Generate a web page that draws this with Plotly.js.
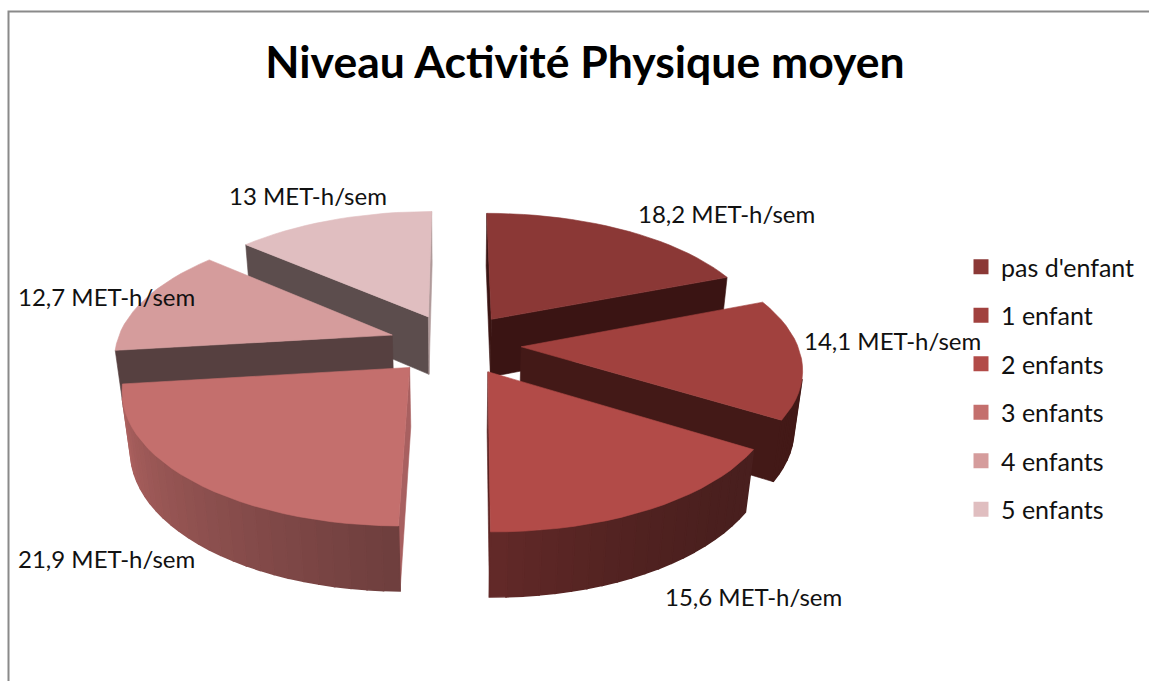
<!DOCTYPE html>
<html>
<head>
<meta charset="utf-8">
<script src="https://cdn.plot.ly/plotly-3.0.1.min.js"></script>
<style>html,body{margin:0;padding:0;background:#fff;overflow:hidden}</style>
</head>
<body>
<div id="chart" style="width:1149px;height:681px"></div>
<script>
// Chart data
const categories = ["pas d'enfant", '1 enfant', '2 enfants', '3 enfants', '4 enfants', '5 enfants'];
const valueLabels = ['18,2', '14,1', '15,6', '21,9', '12,7', '13'];
const values = [18.2, 14.1, 15.6, 21.9, 12.7, 13];
const unit = 'MET-h/sem';

// Slice styles
const topColors = ['#8B3836', '#A1413E', '#B24B48', '#C46F6D', '#D59C9C', '#E0BEC0'];
const startFaceColors = ['#3A1413', '#431917', '#431917', '#A86060', '#564040', '#5C4D4D'];
const endFaceColors = ['#3A1413', '#431917', '#5A2220', '#A86060', '#564040', '#B09A9A'];
const baseRgb = [[139, 56, 54], [160, 65, 62], [178, 75, 72], [196, 111, 109], [213, 156, 156], [224, 190, 192]];

// Label placement (left edge, middle), in page pixels
const labelX = [636, 802, 663, 16, 16, 227];
const labelY = [213, 340, 596, 558, 296, 195];

// Pie camera
const cx = 455, cy = 344, A = 276, B = 128, H = 60;
const persp = 0.145, lean = 0.025, explode = 0.24;
const drawOrder = [5, 0, 4, 1, 3, 2];
const FONT = 'Lato, sans-serif';

const rad = d => d * Math.PI / 180;
const total = values.reduce((a, b) => a + b, 0);

function project(u, v, z) {
  const w = 1 + persp * v + lean * z;
  return [cx + A * u / w, cy + (-B * v + H * z) / w];
}

function area(pts) {
  let s = 0;
  pts.forEach((p, i) => {
    const q = pts[(i + 1) % pts.length];
    s += p[0] * q[1] - q[0] * p[1];
  });
  return s / 2;
}

function face(pts, color, width = 0.6) {
  return {
    x: pts.map(p => p[0]).concat(pts[0][0]),
    y: pts.map(p => p[1]).concat(pts[0][1]),
    type: 'scatter',
    mode: 'lines',
    fill: 'toself',
    fillcolor: color,
    line: { color: color, width: width },
    hoverinfo: 'skip',
    showlegend: false,
  };
}

// Outer wall gets darker going from the left side round to the right
function wallColor(i, deg) {
  if (i !== 2 && i !== 3) return startFaceColors[i];
  const t = Math.max(deg - 122, 0) / 59;
  const f = deg >= 181 ? 0.56 + (deg - 181) / 82 * 0.34 : 0.41 + t * t * 0.15;
  return `rgb(${baseRgb[i].map(c => Math.round(c * f)).join(',')})`;
}

function sliceTraces(i, from, to) {
  const mid = rad((from + to) / 2);
  const ex = explode * Math.sin(mid), ey = explode * Math.cos(mid);
  const rim = (deg, z) => project(ex + Math.sin(rad(deg)), ey + Math.cos(rad(deg)), z);
  const apex = z => project(ex, ey, z);
  const out = [];

  const startFace = [apex(0), rim(from, 0), rim(from, 1), apex(1)];
  const endFace = [rim(to, 0), apex(0), apex(1), rim(to, 1)];
  if (area(startFace) < 0) out.push(face(startFace, startFaceColors[i]));
  if (area(endFace) < 0) out.push(face(endFace, endFaceColors[i]));

  const steps = Math.ceil((to - from) / 3);
  for (let s = 0; s < steps; s++) {
    const a = from + (to - from) * s / steps;
    const b = from + (to - from) * (s + 1) / steps;
    const quad = [rim(a, 0), rim(b, 0), rim(b, 1), rim(a, 1)];
    if (area(quad) < 0) out.push(face(quad, wallColor(i, (a + b) / 2), 1.6));
  }

  const topPts = [apex(0)];
  for (let s = 0; s <= steps; s++) topPts.push(rim(from + (to - from) * s / steps, 0));
  out.push(face(topPts, topColors[i]));
  return out;
}

// Cumulative angles, clockwise from 12 o'clock
const starts = [];
values.reduce((acc, v, i) => {
  starts[i] = acc;
  return acc + v / total * 360;
}, 0);

const data = [];
drawOrder.forEach(i => {
  const to = starts[i] + values[i] / total * 360;
  data.push(...sliceTraces(i, starts[i], to));
});

// Legend entries
categories.forEach((name, i) => {
  data.push({
    x: [null],
    y: [null],
    type: 'scatter',
    mode: 'markers',
    name: name,
    legendgroup: name,
    marker: { color: topColors[i], symbol: 'square', size: 15 },
    hoverinfo: 'skip',
  });
});

const annotations = valueLabels.map((v, i) => ({
  x: labelX[i],
  y: labelY[i],
  xref: 'x',
  yref: 'y',
  xanchor: 'left',
  yanchor: 'middle',
  text: `${v} ${unit}`,
  showarrow: false,
  font: { family: FONT, size: 24, color: '#111' },
}));

const layout = {
  width: 1149,
  height: 681,
  margin: { l: 0, r: 0, t: 0, b: 0 },
  paper_bgcolor: '#FFFFFF',
  plot_bgcolor: '#FFFFFF',
  title: {
    text: '<b>Niveau Activité Physique moyen</b>',
    x: 585 / 1149,
    xanchor: 'center',
    y: 1 - 62 / 681,
    yanchor: 'middle',
    font: { family: FONT, size: 44.5, color: '#000' },
  },
  xaxis: { range: [0, 1149], visible: false, fixedrange: true },
  yaxis: { range: [681, 0], visible: false, fixedrange: true },
  legend: {
    x: 961 / 1149,
    xanchor: 'left',
    y: 1 - 244 / 681,
    yanchor: 'top',
    bgcolor: 'rgba(0,0,0,0)',
    tracegroupgap: 13,
    font: { family: FONT, size: 25, color: '#111' },
  },
  shapes: [{
    type: 'path',
    xref: 'x',
    yref: 'y',
    path: 'M 8.5 681 L 8.5 11.5 L 1149 11.5',
    line: { color: '#8A8A8A', width: 2 },
  }],
  annotations,
};

Plotly.newPlot('chart', data, layout, { displayModeBar: false, staticPlot: true });
</script>
</body>
</html>
